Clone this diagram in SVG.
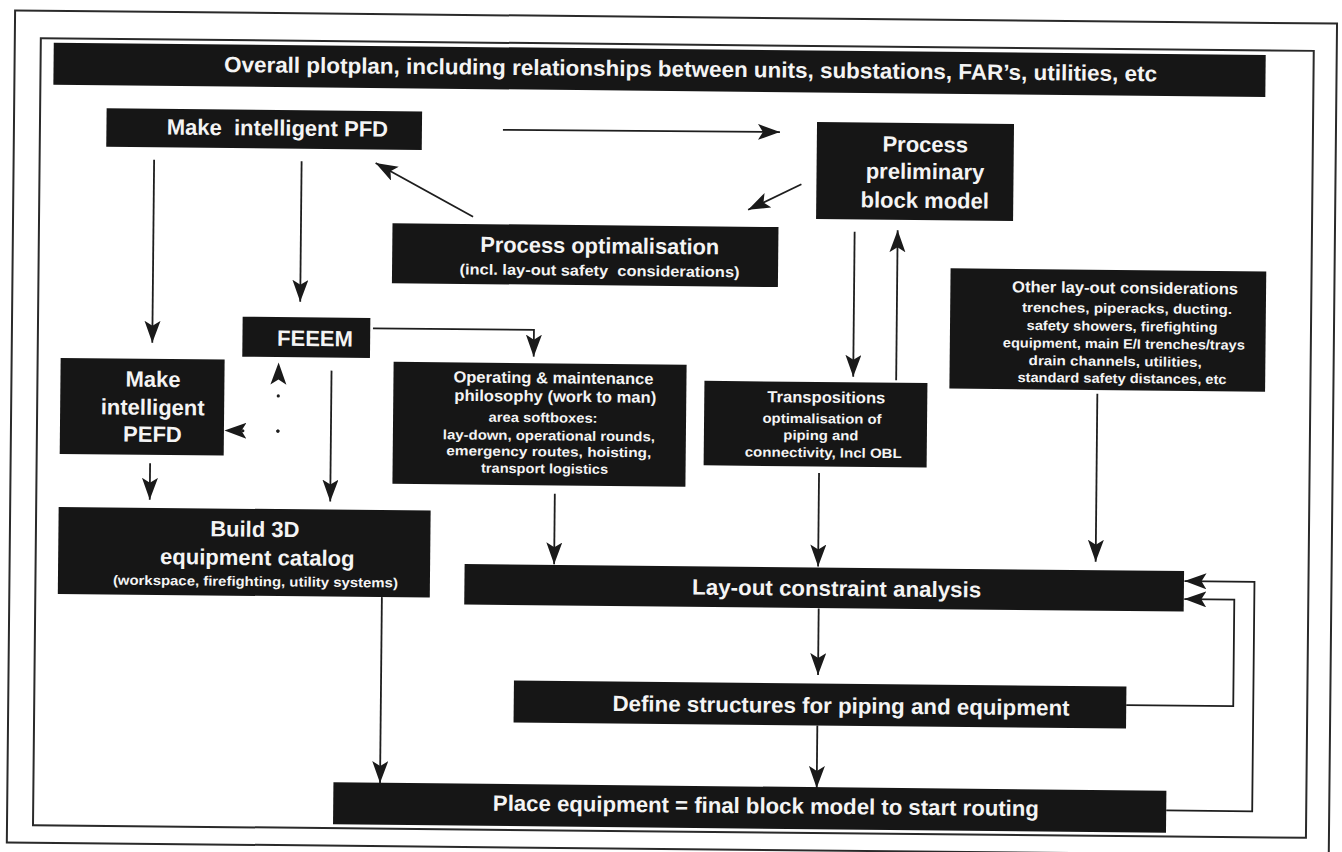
<svg xmlns="http://www.w3.org/2000/svg" width="1342" height="852" viewBox="0 0 1342 852">
<style>
.frame{fill:none;stroke:#2a2a2a;stroke-width:2}
.box{fill:#161616}
.t{font-family:"Liberation Sans",Arial,sans-serif;font-weight:bold;fill:#f4f4f4;text-anchor:middle}
.s22{font-size:22px}
.s16{font-size:16px}
.s15{font-size:13.5px}
.c{fill:none;stroke:#1e1e1e;stroke-width:1.8;marker-end:url(#ah)}
.d{fill:none;stroke:#1e1e1e;stroke-width:3.2;stroke-linecap:round;stroke-dasharray:0.1 35;marker-end:url(#ah)}
</style>
<defs>
<marker id="ah" markerUnits="userSpaceOnUse" markerWidth="24" markerHeight="18" refX="22" refY="8" orient="auto">
<path d="M0,0 L22,8 L0,16 L5,8 z" fill="#1a1a1a"/>
</marker>
</defs>
<rect width="1342" height="852" fill="#ffffff"/>
<g transform="rotate(0.57 671 426)">
<rect class="frame" x="11" y="17" width="1322" height="832"/>
<rect class="frame" x="37" y="44.5" width="1273" height="787"/>

<g id="connectors">
<path class="c" d="M500,131.5 L777,131"/>
<path class="c" d="M799,183 L746,209"/>
<path class="c" d="M471,218.7 L373,166"/>
<path class="c" d="M151.5,165 L151.5,348"/>
<path class="c" d="M299,165 L299,305.5"/>
<path class="c" d="M372,331.3 H533 V358"/>
<path class="c" d="M331,374 V505"/>
<path class="c" d="M150.5,468.5 V505"/>
<path class="d" d="M278,435 V366.5"/>
<path class="d" d="M278,435 H224.5"/>
<path class="c" d="M555.5,495 V565.5"/>
<path class="c" d="M819.5,471.5 V565"/>
<path class="c" d="M1097,389.5 V557.5"/>
<path class="c" d="M852.7,230 V375"/>
<path class="c" d="M895.7,378 V228"/>
<path class="c" d="M820.5,607 V673.5"/>
<path class="c" d="M820.3,724 V786.5"/>
<path class="c" d="M383.6,600 V786"/>
<path class="c" d="M1129,700.5 H1236 V594 H1186"/>
<path class="c" d="M1170,805.5 H1256 V576 H1186"/>
</g>

<g id="n_top">
<rect class="box" x="50" y="49" width="1212" height="42"/>
<text class="t s22" x="687" y="76.5" textLength="933" lengthAdjust="spacingAndGlyphs">Overall plotplan, including relationships between units, substations, FAR’s, utilities, etc</text>
</g>
<g id="n_pfd">
<rect class="box" x="103.5" y="114" width="315.5" height="38.5"/>
<text class="t s22" x="274.5" y="139.5" style="white-space:pre">Make  intelligent PFD</text>
</g>
<g id="n_ppbm">
<rect class="box" x="814" y="120.5" width="197" height="97"/>
<text class="t s22" x="922.5" y="149.5">Process</text>
<text class="t s22" x="922.5" y="176.5">preliminary</text>
<text class="t s22" x="922.5" y="205.5">block model</text>
</g>
<g id="n_popt">
<rect class="box" x="390.5" y="226" width="386" height="60"/>
<text class="t s22" x="598" y="254" textLength="239" lengthAdjust="spacingAndGlyphs">Process optimalisation</text>
<text class="t" style="font-size:15px;white-space:pre" x="598" y="276.5" textLength="280" lengthAdjust="spacingAndGlyphs">(incl. lay-out safety  considerations)</text>
</g>
<g id="n_feeem">
<rect class="box" x="241.6" y="321" width="127.7" height="40"/>
<text class="t s22" x="314.2" y="349.6">FEEEM</text>
</g>
<g id="n_pefd">
<rect class="box" x="60" y="364" width="164" height="96"/>
<text class="t s22" x="152.6" y="392">Make</text>
<text class="t s22" x="152.6" y="420">intelligent</text>
<text class="t s22" x="152.6" y="447">PEFD</text>
</g>
<g id="n_op">
<rect class="box" x="393" y="364.5" width="293" height="122"/>
<text class="t s16" x="553" y="384.5" textLength="200" lengthAdjust="spacingAndGlyphs">Operating &amp; maintenance</text>
<text class="t s16" x="555" y="403" textLength="202" lengthAdjust="spacingAndGlyphs">philosophy (work to man)</text>
<text class="t s15" x="543" y="423.5" textLength="109" lengthAdjust="spacingAndGlyphs">area softboxes:</text>
<text class="t s15" x="549" y="441.5" textLength="212" lengthAdjust="spacingAndGlyphs">lay-down, operational rounds,</text>
<text class="t s15" x="549" y="457.5" textLength="205" lengthAdjust="spacingAndGlyphs">emergency routes, hoisting,</text>
<text class="t s15" x="545" y="474.5" textLength="127" lengthAdjust="spacingAndGlyphs">transport logistics</text>
</g>
<g id="n_trans">
<rect class="box" x="704" y="380.5" width="223" height="84.5"/>
<text class="t s16" x="826" y="401.2" textLength="118" lengthAdjust="spacingAndGlyphs">Transpositions</text>
<text class="t s15" x="822" y="421.8" textLength="119" lengthAdjust="spacingAndGlyphs">optimalisation of</text>
<text class="t s15" x="821" y="438.5" textLength="75" lengthAdjust="spacingAndGlyphs">piping and</text>
<text class="t s15" x="823.5" y="455.8" textLength="157" lengthAdjust="spacingAndGlyphs">connectivity, Incl OBL</text>
</g>
<g id="n_other">
<rect class="box" x="949" y="265.5" width="315.7" height="120.3"/>
<text class="t s16" x="1123.7" y="288.8" textLength="226" lengthAdjust="spacingAndGlyphs">Other lay-out considerations</text>
<text class="t s15" x="1125.8" y="308.5" textLength="210" lengthAdjust="spacingAndGlyphs">trenches, piperacks, ducting.</text>
<text class="t s15" x="1121" y="326.5" textLength="191" lengthAdjust="spacingAndGlyphs">safety showers, firefighting</text>
<text class="t s15" x="1123" y="344" textLength="242" lengthAdjust="spacingAndGlyphs">equipment, main E/I trenches/trays</text>
<text class="t s15" x="1114.5" y="361.5" textLength="173" lengthAdjust="spacingAndGlyphs">drain channels, utilities,</text>
<text class="t s15" x="1121.5" y="378.5" textLength="209" lengthAdjust="spacingAndGlyphs">standard safety distances, etc</text>
</g>
<g id="n_build">
<rect class="box" x="59.5" y="513" width="372" height="87"/>
<text class="t s22" x="255.9" y="540.9">Build 3D</text>
<text class="t s22" x="258.7" y="569.2">equipment catalog</text>
<text class="t s15" x="257" y="590.2" textLength="285" lengthAdjust="spacingAndGlyphs">(workspace, firefighting, utility systems)</text>
</g>
<g id="n_lca">
<rect class="box" x="466" y="566" width="719.5" height="40.5"/>
<text class="t s22" x="838.3" y="594.3" textLength="289" lengthAdjust="spacingAndGlyphs">Lay-out constraint analysis</text>
</g>
<g id="n_def">
<rect class="box" x="516.5" y="682" width="612.5" height="42"/>
<text class="t s22" x="843.8" y="711.6" textLength="457" lengthAdjust="spacingAndGlyphs">Define structures for piping and equipment</text>
</g>
<g id="n_place">
<rect class="box" x="337" y="785.7" width="833" height="42"/>
<text class="t s22" x="769.7" y="812.4" textLength="546" lengthAdjust="spacingAndGlyphs">Place equipment = final block model to start routing</text>
</g>
</g>
</svg>
